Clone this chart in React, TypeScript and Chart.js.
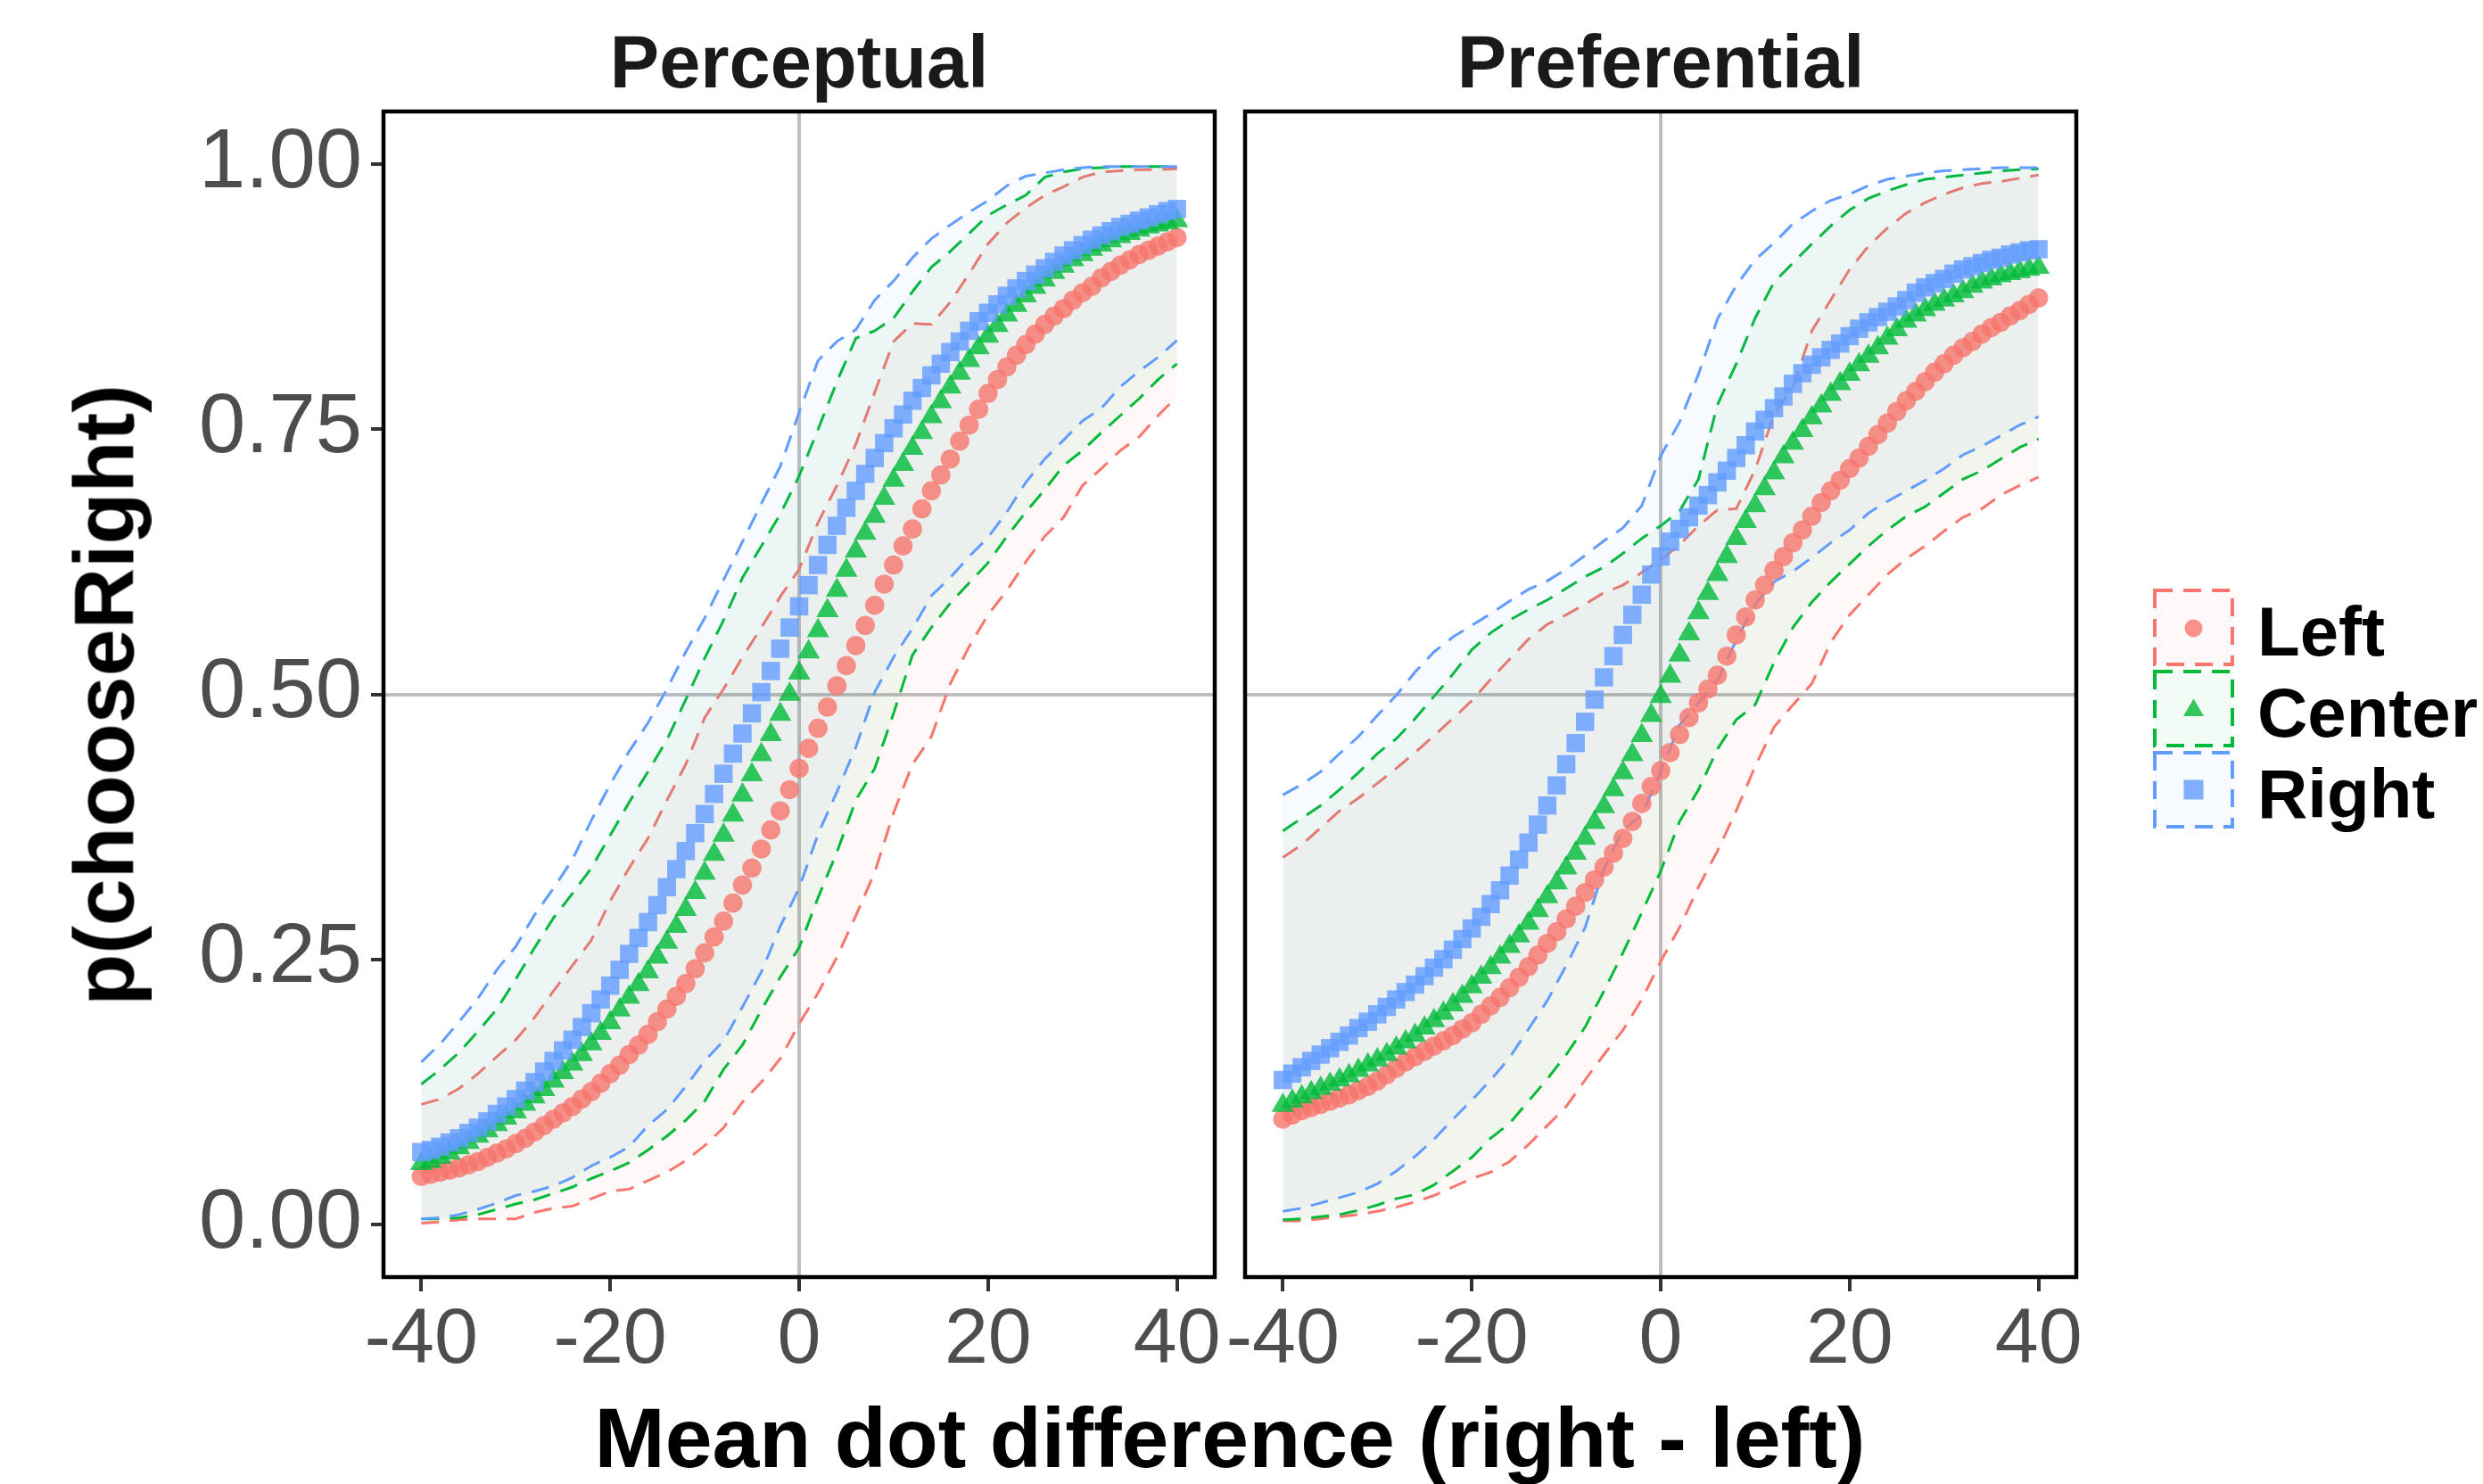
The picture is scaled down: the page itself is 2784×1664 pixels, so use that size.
import React, { useEffect, useRef } from "react";
import { Chart, registerables } from "chart.js";

Chart.register(...registerables);

// ---------------- data ----------------
const SERIES = ["Left", "Center", "Right"];
const PANEL_TITLES = ["Perceptual", "Preferential"];
const X_TICKS = [-40, -20, 0, 20, 40];
const Y_TICKS = [0, 0.25, 0.5, 0.75, 1];

const X_MEAN = [-40,-39,-38,-37,-36,-35,-34,-33,-32,-31,-30,-29,-28,-27,-26,-25,-24,-23,-22,-21,-20,-19,-18,-17,-16,-15,-14,-13,-12,-11,-10,-9,-8,-7,-6,-5,-4,-3,-2,-1,0,1,2,3,4,5,6,7,8,9,10,11,12,13,14,15,16,17,18,19,20,21,22,23,24,25,26,27,28,29,30,31,32,33,34,35,36,37,38,39,40];
const X_BAND = [-40,-38,-36,-34,-32,-30,-28,-26,-24,-22,-20,-18,-16,-14,-12,-10,-8,-6,-4,-2,0,2,4,6,8,10,12,14,16,18,20,22,24,26,28,30,32,34,36,38,40];

// Perceptual – mean curves
const PERC_LEFT = [
  .045,.047,.049,.051,.053,.056,.059,.063,.067,.071,
  .076,.081,.087,.093,.099,.105,.111,.118,.125,.133,
  .142,.150,.160,.169,.179,.191,.203,.215,.227,.241,
  .256,.271,.286,.303,.320,.336,.354,.372,.390,.410,
  .430,.449,.468,.488,.508,.527,.546,.565,.584,.604,
  .622,.640,.656,.675,.692,.707,.722,.739,.754,.769,
  .784,.797,.809,.820,.830,.840,.849,.857,.864,.872,
  .879,.885,.893,.899,.905,.910,.915,.919,.923,.927,
  .931];
const PERC_CENTER = [
  .057,.059,.063,.067,.072,.077,.083,.088,.094,.100,
  .106,.113,.120,.127,.135,.143,.151,.160,.170,.180,
  .190,.202,.214,.226,.238,.252,.266,.281,.297,.313,
  .331,.349,.367,.386,.405,.424,.443,.462,.481,.500,
  .520,.540,.560,.579,.598,.617,.635,.652,.668,.685,
  .702,.717,.732,.747,.762,.776,.790,.803,.815,.827,
  .838,.848,.858,.867,.876,.884,.891,.898,.904,.910,
  .915,.920,.924,.928,.932,.935,.938,.941,.943,.945,
  .947];
const PERC_RIGHT = [
  .068,.070,.073,.077,.081,.086,.091,.097,.104,.111,
  .118,.126,.134,.144,.154,.164,.174,.186,.199,.212,
  .225,.240,.255,.270,.285,.301,.318,.335,.352,.369,
  .387,.406,.425,.444,.463,.482,.502,.522,.543,.563,
  .583,.603,.622,.641,.659,.676,.692,.708,.723,.737,
  .751,.764,.777,.789,.801,.812,.823,.833,.843,.852,
  .860,.868,.876,.883,.890,.896,.902,.908,.914,.919,
  .924,.929,.933,.937,.941,.944,.947,.950,.953,.956,
  .958];

// Perceptual – ribbon bounds
const PERC_LEFT_LO = [.001,.002,.004,.005,.005,.005,.011,.015,.017,.024,.031,.033,.041,.049,.060,.074,.091,.115,.134,.156,.189,.218,.252,.291,.332,.388,.434,.460,.510,.545,.575,.598,.625,.649,.667,.697,.713,.730,.743,.763,.781];
const PERC_LEFT_HI = [.113,.118,.128,.142,.158,.174,.195,.220,.244,.268,.305,.336,.364,.400,.434,.478,.505,.535,.563,.592,.618,.662,.697,.736,.785,.833,.850,.849,.870,.897,.925,.945,.959,.971,.979,.988,.993,.994,.995,.995,.996];
const PERC_CENTER_LO = [.005,.005,.006,.009,.014,.019,.023,.029,.035,.043,.050,.058,.070,.083,.098,.116,.146,.169,.202,.233,.261,.308,.351,.400,.430,.482,.537,.563,.586,.605,.624,.649,.672,.693,.716,.730,.747,.763,.779,.797,.812];
const PERC_CENTER_HI = [.132,.146,.162,.182,.203,.231,.261,.289,.312,.336,.367,.398,.427,.457,.495,.534,.570,.610,.640,.670,.706,.750,.795,.836,.843,.855,.880,.903,.918,.935,.952,.962,.971,.988,.993,.996,.997,.998,.998,.998,.998];
const PERC_RIGHT_LO = [.005,.006,.009,.014,.020,.027,.031,.036,.044,.055,.063,.073,.093,.108,.130,.154,.173,.205,.238,.281,.317,.368,.408,.450,.502,.535,.562,.593,.610,.630,.648,.672,.700,.722,.740,.758,.770,.790,.805,.818,.834];
const PERC_RIGHT_HI = [.153,.170,.191,.213,.240,.262,.292,.317,.344,.381,.415,.446,.473,.505,.540,.572,.608,.644,.680,.715,.766,.815,.833,.844,.872,.890,.912,.930,.943,.955,.966,.980,.989,.992,.995,.997,.998,.998,.998,.998,.998];

// Preferential – mean curves
const PREF_LEFT = [
  .099,.103,.107,.110,.113,.116,.119,.122,.126,.130,
  .135,.141,.147,.153,.158,.163,.168,.173,.178,.184,
  .190,.198,.206,.214,.223,.233,.243,.254,.265,.276,
  .288,.300,.313,.325,.337,.350,.364,.380,.397,.413,
  .428,.445,.462,.478,.492,.505,.518,.536,.556,.573,
  .589,.603,.617,.630,.643,.655,.668,.681,.692,.702,
  .713,.723,.734,.745,.756,.767,.777,.786,.795,.804,
  .812,.820,.827,.833,.840,.846,.851,.857,.862,.868,
  .874];
const PREF_CENTER = [
  .112,.116,.120,.124,.128,.132,.136,.140,.145,.150,
  .155,.160,.166,.172,.178,.185,.192,.199,.207,.215,
  .224,.233,.242,.252,.262,.272,.284,.296,.309,.322,
  .336,.350,.364,.379,.394,.410,.426,.443,.461,.480,
  .498,.517,.537,.557,.577,.595,.613,.630,.647,.663,
  .678,.694,.709,.724,.737,.749,.761,.772,.783,.793,
  .802,.811,.819,.827,.836,.844,.852,.858,.863,.868,
  .872,.876,.880,.885,.889,.892,.895,.897,.899,.901,
  .903];
const PREF_RIGHT = [
  .136,.142,.148,.154,.160,.166,.172,.178,.185,.191,
  .198,.205,.212,.219,.226,.234,.242,.250,.259,.269,
  .279,.290,.302,.315,.329,.344,.360,.377,.395,.414,
  .434,.454,.474,.495,.516,.536,.556,.575,.594,.613,
  .630,.644,.656,.667,.678,.688,.700,.711,.723,.735,
  .748,.759,.770,.781,.793,.803,.811,.818,.825,.831,
  .838,.845,.851,.856,.861,.866,.872,.879,.884,.888,
  .892,.897,.901,.904,.907,.910,.912,.915,.917,.919,
  .920];

// Preferential – ribbon bounds
const PREF_LEFT_LO = [.003,.003,.005,.007,.009,.012,.016,.021,.027,.035,.043,.049,.059,.075,.093,.111,.136,.160,.183,.212,.248,.280,.318,.352,.390,.432,.469,.490,.510,.549,.575,.594,.613,.628,.640,.654,.667,.675,.688,.697,.705];
const PREF_LEFT_HI = [.346,.358,.374,.390,.402,.416,.430,.445,.461,.477,.494,.514,.533,.552,.566,.575,.585,.596,.603,.615,.627,.641,.659,.674,.675,.712,.764,.790,.843,.872,.901,.923,.940,.954,.964,.972,.978,.982,.984,.987,.990];
const PREF_CENTER_LO = [.004,.005,.007,.009,.013,.018,.024,.028,.037,.050,.063,.081,.095,.116,.137,.160,.186,.220,.256,.294,.333,.380,.410,.448,.476,.490,.530,.563,.587,.606,.623,.640,.655,.668,.677,.690,.703,.711,.722,.733,.741];
const PREF_CENTER_HI = [.371,.383,.395,.410,.426,.444,.458,.477,.498,.519,.542,.558,.570,.580,.589,.600,.611,.620,.633,.647,.659,.673,.703,.773,.812,.855,.889,.907,.925,.942,.957,.968,.975,.981,.986,.988,.990,.992,.994,.995,.996];
const PREF_RIGHT_LO = [.012,.015,.020,.025,.030,.038,.050,.064,.080,.099,.117,.136,.157,.184,.211,.244,.280,.335,.372,.386,.427,.471,.492,.513,.551,.585,.606,.616,.629,.643,.655,.671,.682,.692,.702,.713,.726,.734,.744,.754,.762];
const PREF_RIGHT_HI = [.405,.415,.427,.444,.460,.480,.499,.521,.540,.554,.565,.576,.588,.599,.607,.618,.631,.645,.657,.678,.725,.757,.802,.854,.886,.910,.926,.944,.956,.966,.972,.980,.986,.989,.992,.994,.995,.996,.997,.997,.997];

const PANELS = [
  {
    mean: { Left: PERC_LEFT, Center: PERC_CENTER, Right: PERC_RIGHT },
    lo: { Left: PERC_LEFT_LO, Center: PERC_CENTER_LO, Right: PERC_RIGHT_LO },
    hi: { Left: PERC_LEFT_HI, Center: PERC_CENTER_HI, Right: PERC_RIGHT_HI },
  },
  {
    mean: { Left: PREF_LEFT, Center: PREF_CENTER, Right: PREF_RIGHT },
    lo: { Left: PREF_LEFT_LO, Center: PREF_CENTER_LO, Right: PREF_RIGHT_LO },
    hi: { Left: PREF_LEFT_HI, Center: PREF_CENTER_HI, Right: PREF_RIGHT_HI },
  },
];

// ---------------- styling ----------------
const FONT = '"Liberation Sans", Arial, Helvetica, sans-serif';
const RGB = { Left: [248, 118, 109], Center: [0, 186, 56], Right: [97, 156, 255] };
const STYLE = { Left: "circle", Center: "triangle", Right: "rect" };
const RADIUS = { Left: 10.8, Center: 14.5, Right: 14.5 };
const rgba = (c, a) => `rgba(${c[0]},${c[1]},${c[2]},${a})`;
const GRID = "#BEBEBE";
const DASH = [20, 12];

const framePlugin = {
  id: "panelFrame",
  afterDraw(chart) {
    const { ctx, chartArea: a } = chart;
    ctx.save();
    ctx.strokeStyle = "#000000";
    ctx.lineWidth = 4.5;
    ctx.strokeRect(a.left, a.top, a.right - a.left, a.bottom - a.top);
    ctx.restore();
  },
};

const pts = (xs, ys) => xs.map((x, i) => ({ x, y: ys[i] }));

function makeConfig(panel, showY) {
  const datasets = [];
  const order = ["Right", "Center", "Left"];
  for (const s of order) {
    datasets.push({
      label: s,
      data: pts(X_MEAN, panel.mean[s]),
      showLine: false,
      pointStyle: STYLE[s],
      pointRadius: RADIUS[s],
      pointBackgroundColor: rgba(RGB[s], 0.8),
      pointBorderWidth: 0,
      pointBorderColor: "rgba(0,0,0,0)",
      borderWidth: 0,
      fill: false,
    });
  }
  for (const s of order) {
    datasets.push({
      label: s + " lower",
      data: pts(X_BAND, panel.lo[s]),
      borderColor: rgba(RGB[s], 1),
      borderWidth: 3,
      borderDash: DASH,
      pointRadius: 0,
      tension: 0,
      fill: false,
    });
    datasets.push({
      label: s + " upper",
      data: pts(X_BAND, panel.hi[s]),
      borderColor: rgba(RGB[s], 1),
      borderWidth: 3,
      borderDash: DASH,
      pointRadius: 0,
      tension: 0,
      fill: "-1",
      backgroundColor: rgba(RGB[s], 0.05),
    });
  }

  return {
    type: "line",
    data: { datasets },
    plugins: [framePlugin],
    options: {
      animation: false,
      responsive: false,
      devicePixelRatio: 1,
      events: [],
      layout: {
        padding: showY
          ? { left: 0, right: 28, top: 125, bottom: 0 }
          : { left: 56, right: 16, top: 125, bottom: 0 },
      },
      plugins: {
        legend: { display: false },
        tooltip: { enabled: false },
        title: { display: false },
      },
      scales: {
        x: {
          type: "linear",
          min: -44,
          max: 44,
          afterBuildTicks: (s) => {
            s.ticks = X_TICKS.map((v) => ({ value: v }));
          },
          afterFit: (s) => {
            s.height = 108;
          },
          border: { display: false },
          grid: {
            color: (c) => (c.tick && c.tick.value === 0 ? GRID : "rgba(0,0,0,0)"),
            lineWidth: 4,
            drawTicks: true,
            tickLength: 16,
            tickWidth: 4,
            tickColor: "#333333",
          },
          ticks: {
            autoSkip: false,
            maxRotation: 0,
            padding: 3,
            color: "#4D4D4D",
            font: { family: FONT, size: 88 },
            callback: (v) => String(v),
          },
        },
        y: {
          type: "linear",
          min: -0.05,
          max: 1.05,
          afterBuildTicks: (s) => {
            s.ticks = Y_TICKS.map((v) => ({ value: v }));
          },
          afterFit: (s) => {
            s.width = showY ? 430 : 0;
          },
          border: { display: false },
          grid: {
            color: (c) => (c.tick && c.tick.value === 0.5 ? GRID : "rgba(0,0,0,0)"),
            lineWidth: 4,
            drawTicks: showY,
            tickLength: 14,
            tickWidth: 4,
            tickColor: "#333333",
          },
          ticks: {
            display: showY,
            autoSkip: false,
            padding: 10,
            color: "#4D4D4D",
            font: { family: FONT, size: 94 },
            callback: (v) => Number(v).toFixed(2),
          },
        },
      },
    },
  };
}

function textTop(baseline, size) {
  return baseline - 0.8465 * size;
}

export default function App() {
  const c1 = useRef(null);
  const c2 = useRef(null);

  useEffect(() => {
    document.body.style.margin = "0";
    const ch1 = new Chart(c1.current, makeConfig(PANELS[0], true));
    const ch2 = new Chart(c2.current, makeConfig(PANELS[1], false));
    return () => {
      ch1.destroy();
      ch2.destroy();
    };
  }, []);

  const titleSize = 83;
  const axisSize = 95;
  const legSize = 78;
  const legendBaselines = [735, 826, 917];

  return (
    <div
      style={{
        position: "absolute",
        left: 0,
        top: 0,
        width: 2784,
        height: 1664,
        background: "#ffffff",
        overflow: "hidden",
        fontFamily: FONT,
      }}
    >
      <canvas
        ref={c1}
        width={1390}
        height={1540}
        style={{ position: "absolute", left: 0, top: 0, width: 1390, height: 1540 }}
      />
      <canvas
        ref={c2}
        width={1004}
        height={1540}
        style={{ position: "absolute", left: 1340, top: 0, width: 1004, height: 1540 }}
      />

      {PANEL_TITLES.map((t, i) => {
        const cx = i === 0 ? 896 : 1862;
        return (
          <div
            key={t}
            style={{
              position: "absolute",
              left: cx - 400,
              width: 800,
              top: textTop(98, titleSize),
              fontSize: titleSize,
              lineHeight: `${titleSize}px`,
              fontWeight: "bold",
              color: "#1A1A1A",
              textAlign: "center",
              whiteSpace: "nowrap",
            }}
          >
            {t}
          </div>
        );
      })}

      <div
        style={{
          position: "absolute",
          left: 1379 - 1000,
          width: 2000,
          top: textTop(1645, axisSize),
          fontSize: axisSize,
          lineHeight: `${axisSize}px`,
          fontWeight: "bold",
          color: "#000000",
          textAlign: "center",
          whiteSpace: "nowrap",
        }}
      >
        Mean dot difference (right - left)
      </div>

      <div
        style={{
          position: "absolute",
          left: (150 - 0.8465 * axisSize + axisSize / 2) - 500,
          width: 1000,
          top: 779 - axisSize / 2,
          height: axisSize,
          fontSize: axisSize,
          lineHeight: `${axisSize}px`,
          fontWeight: "bold",
          color: "#000000",
          textAlign: "center",
          whiteSpace: "nowrap",
          transform: "rotate(-90deg)",
          transformOrigin: "50% 50%",
        }}
      >
        p(chooseRight)
      </div>

      <svg
        width={140}
        height={300}
        style={{ position: "absolute", left: 2400, top: 650, overflow: "visible" }}
      >
        {SERIES.map((s, i) => {
          const y0 = 12 + i * 91;
          const cx = 59.5;
          const cy = 53.5 + i * 91;
          const fillPt = rgba(RGB[s], 0.8);
          let marker;
          if (s === "Left") marker = <circle cx={cx} cy={cy + 1} r={10} fill={fillPt} />;
          else if (s === "Center")
            marker = (
              <polygon
                points={`${cx},${cy - 11} ${cx + 11.5},${cy + 8.5} ${cx - 11.5},${cy + 8.5}`}
                fill={fillPt}
              />
            );
          else marker = <rect x={cx - 11} y={cy - 11} width={22} height={22} fill={fillPt} />;
          return (
            <g key={s}>
              <rect
                x={16}
                y={y0}
                width={87}
                height={83}
                fill={rgba(RGB[s], 0.05)}
                stroke={rgba(RGB[s], 1)}
                strokeWidth={4}
                strokeDasharray="20 12"
              />
              {marker}
            </g>
          );
        })}
      </svg>

      {SERIES.map((s, i) => (
        <div
          key={s}
          style={{
            position: "absolute",
            left: 2531,
            top: textTop(legendBaselines[i], legSize),
            fontSize: legSize,
            lineHeight: `${legSize}px`,
            fontWeight: "bold",
            color: "#000000",
            whiteSpace: "nowrap",
          }}
        >
          {s}
        </div>
      ))}
    </div>
  );
}
